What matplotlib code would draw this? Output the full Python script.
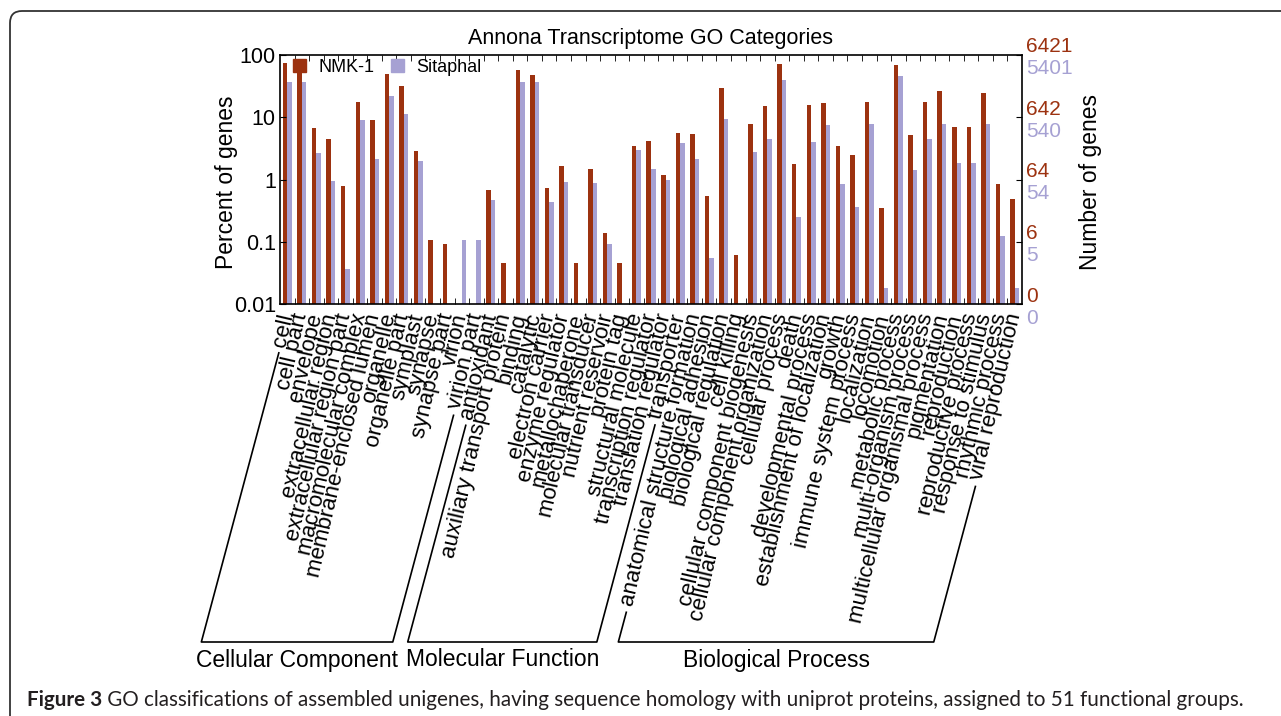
import numpy as np
import matplotlib
matplotlib.use("Agg")
import matplotlib.pyplot as plt
from matplotlib.lines import Line2D
from matplotlib.patches import FancyBboxPatch, Patch
from matplotlib.ticker import NullLocator
from matplotlib.transforms import IdentityTransform, blended_transform_factory

categories = [
    "cell", "cell part", "envelope", "extracellular region", "extracellular region part",
    "macromolecular complex", "membrane-enclosed lumen", "organelle", "organelle part",
    "symplast", "synapse", "synapse part", "virion", "virion part",
    "antioxidant", "auxiliary transport protein", "binding", "catalytic", "electron carrier",
    "enzyme regulator", "metallochaperone", "molecular transducer", "nutrient reservoir",
    "protein tag", "structural molecule", "transcription regulator", "translation regulator",
    "transporter",
    "anatomical structure formation", "biological adhesion", "biological regulation",
    "cell killing", "cellular component biogenesis", "cellular component organization",
    "cellular process", "death", "developmental process", "establishment of localization",
    "growth", "immune system process", "localization", "locomotion", "metabolic process",
    "multi-organism process", "multicellular organismal process", "pigmentation",
    "reproduction", "reproductive process", "response to stimulus", "rhythmic process",
    "viral reproduction",
]
group_names = ["Cellular Component", "Molecular Function", "Biological Process"]
group_sizes = [14, 14, 23]

# percent of genes (None = no bar)
nmk1 = [75, 77, 6.6, 4.4, 0.79, 17.8, 8.9, 50, 32, 2.9, 0.107, 0.091, None, None,
        0.67, 0.046, 57, 47, 0.74, 1.66, 0.046, 1.46, 0.136, 0.046, 3.4, 4.2, 1.17, 5.5,
        5.3, 0.54, 29, 0.062, 7.9, 15.4, 72, 1.75, 15.9, 16.7, 3.4, 2.5, 17.6, 0.35,
        70, 5.1, 17.6, 26, 7.0, 7.0, 24.8, 0.86, 0.49]
sitaphal = [37, 37, 2.7, 0.95, 0.036, 9.0, 2.1, 22, 11.2, 2.0, None, None, 0.107, 0.107,
            0.47, None, 37, 37, 0.44, 0.9, None, 0.87, 0.091, None, 2.95, 1.5, 1.0, 3.8,
            2.1, 0.055, 9.3, None, 2.8, 4.5, 40, 0.25, 4.0, 7.6, 0.84, 0.36, 7.7, 0.018,
            46, 1.4, 4.4, 7.9, 1.86, 1.86, 7.9, 0.126, 0.018]
nmk1_total = 6421
sitaphal_total = 5401
decades = [0.01, 0.1, 1, 10, 100]
decade_labels = ["0.01", "0.1", "1", "10", "100"]

red = "#9C3210"
lav = "#A6A1D3"

plt.rcParams["font.family"] = ["Liberation Sans", "DejaVu Sans"]

fig = plt.figure(figsize=(12.81, 7.16), dpi=100)
W, H = 1281, 716
ax = fig.add_axes([280 / W, 1 - 304 / H, 742 / W, 249 / H])

x = np.arange(len(categories))
v1 = np.array([np.nan if v is None else v for v in nmk1], dtype=float)
v2 = np.array([np.nan if v is None else v for v in sitaphal], dtype=float)
bw = 0.31
ax.bar(x - bw / 2, v1 - 0.01, bottom=0.01, width=bw, color=red, label="NMK-1")
ax.bar(x + bw / 2, v2 - 0.01, bottom=0.01, width=bw, color=lav, label="Sitaphal")

ax.set_yscale("log")
ax.set_ylim(0.01, 100)
ax.set_xlim(-0.5, len(categories) - 0.5)
ax.set_yticks(decades)
ax.set_yticklabels(decade_labels)
ax.yaxis.set_minor_locator(NullLocator())
ax.tick_params(axis="y", direction="in", length=4, right=True, labelsize=15.5, pad=3)

ax.set_xticks(x)
ax.set_xticklabels(categories, rotation=77, rotation_mode="anchor", ha="right", va="center",
                   fontsize=16)
ax.set_xticks(np.arange(0.5, len(categories) - 0.5, 1), minor=True)
ax.tick_params(axis="x", which="major", length=0, pad=7)
ax.tick_params(axis="x", which="minor", direction="in", length=4, top=True, bottom=True)
for s in ax.spines.values():
    s.set_linewidth(1.2)

ax.set_title("Annona Transcriptome GO Categories", fontsize=15.5, pad=8)

ax.legend(handles=[Patch(color=red), Patch(color=lav)], labels=["NMK-1", "Sitaphal"],
          loc="upper left", bbox_to_anchor=(0.018, 0.985), ncol=2, frameon=False,
          fontsize=13, handlelength=0.7, handleheight=0.7, handletextpad=0.7,
          columnspacing=0.9, borderaxespad=0, borderpad=0)

ax.text(-0.0715, 0.49, "Percent of genes", transform=ax.transAxes, rotation=90,
        ha="center", va="center", fontsize=16.5)
ax.text(1.092, 0.49, "Number of genes", transform=ax.transAxes, rotation=90,
        ha="center", va="center", fontsize=16.5)

# right-hand gene counts for each decade
bt = blended_transform_factory(ax.transAxes, ax.transData)
for d in decades:
    ax.annotate(str(int(round(nmk1_total * d / 100, 6))), xy=(1, d), xycoords=bt,
                xytext=(4, 8), textcoords="offset pixels", ha="left", va="center",
                color=red, fontsize=15, annotation_clip=False)
    ax.annotate(str(int(round(sitaphal_total * d / 100, 6))), xy=(1, d), xycoords=bt,
                xytext=(4, -14), textcoords="offset pixels", ha="left", va="center",
                color=lav, fontsize=15, annotation_clip=False)

# group brackets under the labels
fig.canvas.draw()
renderer = fig.canvas.get_renderer()
ticklabels = ax.get_xticklabels()
base_y = H - 642
slope = np.tan(np.deg2rad(75))


def foot(lbl):
    bb = lbl.get_window_extent(renderer)
    return bb.x0 + 0.42 * lbl.get_fontsize() * 100 / 72, bb.y0 - 4


start = 0
for name, n in zip(group_names, group_sizes):
    fx0, fy0 = foot(ticklabels[start])
    fx1, fy1 = foot(ticklabels[start + n - 1])
    bx0 = fx0 - (fy0 - base_y) / slope
    bx1 = fx1 - (fy1 - base_y) / slope
    fig.add_artist(Line2D([fx0, bx0, bx1, fx1], [fy0, base_y, base_y, fy1],
                          transform=IdentityTransform(), color="black", lw=1.2))
    fig.text((bx0 + bx1) / 2 / W, 1 - 660 / H, name, ha="center", va="center", fontsize=16.5)
    start += n

# caption and frame
fig.add_artist(FancyBboxPatch((10, -40), 1320, H - 11 + 40,
                              boxstyle="round,pad=0,rounding_size=12",
                              transform=IdentityTransform(), fill=False,
                              edgecolor="#333333", lw=1.3))
cap_fs = 14
cap1 = fig.text(27 / W, 1 - 700 / H, "Figure 3", fontweight="bold", family="Lato",
                fontsize=cap_fs, va="center", color="#231f20")
cap2 = fig.text(0, 1 - 700 / H,
                " GO classifications of assembled unigenes, having sequence homology with uniprot "
                "proteins, assigned to 51 functional groups.",
                family="Lato", fontsize=cap_fs, va="center", color="#231f20")
fig.canvas.draw()
w1 = cap1.get_window_extent(renderer).width
w2 = cap2.get_window_extent(renderer).width
cap_fs = cap_fs * 1223 / (w1 + w2)
cap1.set_fontsize(cap_fs)
cap2.set_fontsize(cap_fs)
fig.canvas.draw()
cap2.set_x(cap1.get_window_extent(renderer).x1 / W)

fig.savefig("out.png", dpi=100)
